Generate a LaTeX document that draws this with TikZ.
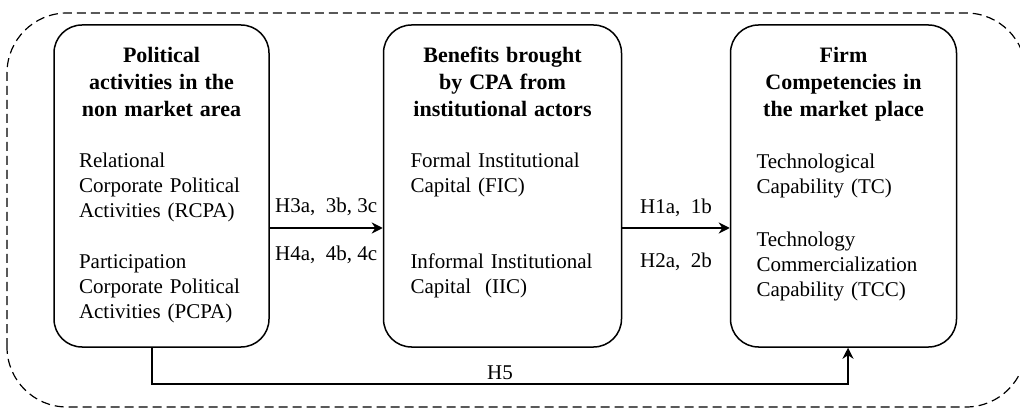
\documentclass[tikz,border=0pt]{standalone}
\usepackage{fontspec}
\setmainfont{Liberation Serif}
\usepackage{tikz}
\usetikzlibrary{arrows.meta}

\newcommand{\blocktitle}[1]{{\centering\fontsize{22}{27}\selectfont\bfseries #1\par}}

\begin{document}
\begin{tikzpicture}[x=1pt,y=1pt,->,>={Stealth[length=11pt,width=11pt,inset=3.5pt]},
                    node distance=341pt,
                    font=\fontsize{21}{25}\selectfont,
                    block/.style={draw,-,line width=1.5pt,rounded corners=28pt,
                      align=left,inner ysep=0pt,text height=38pt,text depth=284pt},
                    link/.style={line width=1.9pt}]
  \useasboundingbox (0,0) rectangle (1020,410);
  \draw[-,dash pattern=on 9pt off 5pt,line width=1.2pt,rounded corners=60pt]
    (7,3) rectangle (1026,397);

  \node[block,text width=165pt,inner xsep=25pt] (pol) at (161.5,224)
    {\blocktitle{Political\\activities in the\\non market area}\vspace{26pt}
     Relational\\Corporate Political\\Activities (RCPA)\\[26pt]
     Participation\\Corporate Political\\Activities (PCPA)};
  \node[block,text width=184pt,inner xsep=27pt] (ben) [right of=pol]
    {\blocktitle{Benefits brought\\by CPA from\\institutional actors}\vspace{26pt}
     Formal Institutional\\Capital (FIC)\\[51pt]
     Informal Institutional\\Capital~~(IIC)};
  \node[block,text width=174pt,inner xsep=26pt] (firm) [right of=ben]
    {\blocktitle{Firm\\Competencies in\\the market place}\vspace{27pt}
     Technological\\Capability (TC)\\[28pt]
     Technology\\Commercialization\\Capability (TCC)};

  \path ([yshift=-42pt]pol.east) edge[link] node[above=8pt] {H3a,~~3b, 3c}
                                            node[below=14pt] {H4a,~~4b, 4c}
                                            ([yshift=-42pt]ben.west)
        ([yshift=-42pt]ben.east) edge[link] node[above=7pt] {H1a,~~1b}
                                            node[below=21pt] {H2a,~~2b}
                                            ([yshift=-42pt]firm.west);
  \draw[link] ([xshift=-9.5pt]pol.south) -- ++(0,-36)
    -| node[pos=0.25,above] {H5} ([xshift=4.5pt]firm.south);
\end{tikzpicture}
\end{document}
